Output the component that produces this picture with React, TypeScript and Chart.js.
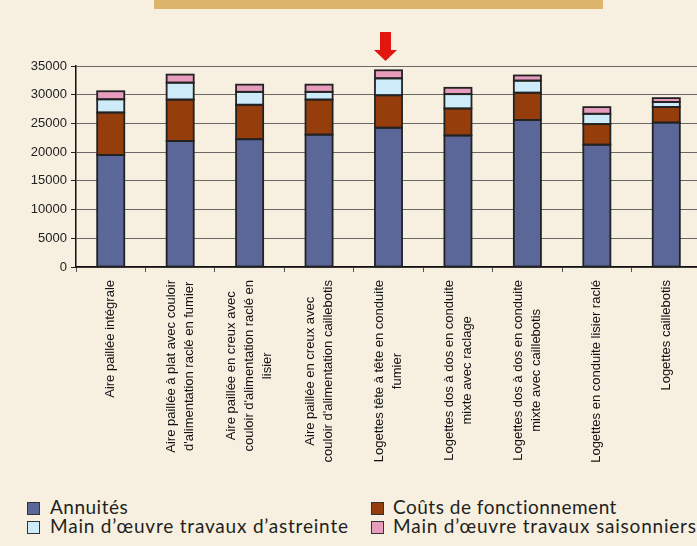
import React, { useEffect, useRef } from "react";
import { Chart, registerables } from "chart.js";

Chart.register(...registerables);

const categories: string[][] = [
  ["Aire paillée intégrale"],
  ["Aire paillée à plat avec couloir", "d'alimentation raclé en fumier"],
  ["Aire paillée en creux avec", "couloir d'alimentation raclé en", "lisier"],
  ["Aire paillée en creux avec", "couloir d'alimentation caillebotis"],
  ["Logettes tête à tête en conduite", "fumier"],
  ["Logettes dos à dos en conduite", "mixte avec raclage"],
  ["Logettes dos à dos en conduite", "mixte avec caillebotis"],
  ["Logettes en conduite lisier raclé"],
  ["Logettes caillebotis"],
];

const annuites = [19500, 21950, 22250, 23050, 24250, 22900, 25600, 21300, 25150];
const couts = [7400, 7200, 6000, 6100, 5650, 4700, 4750, 3580, 2700];
const astreinte = [2300, 2950, 2250, 1350, 2950, 2500, 2100, 1800, 870];
const saisonniers = [1400, 1400, 1250, 1250, 1400, 1100, 900, 1160, 690];

const seriesNames = [
  "Annuités",
  "Coûts de fonctionnement",
  "Main d’œuvre travaux d’astreinte",
  "Main d’œuvre travaux saisonniers",
];
const seriesColors = ["#5B6799", "#963D0C", "#CDEBF8", "#E79CBE"];

const yTicksMax = 35000;
const yTicksStep = 5000;

const CANVAS_W = 701;
const CANVAS_H = 490;
const AXIS_Y = 267;
const AXIS_X = 76;

const xLabelPlugin = {
  id: "xLabelPlugin",
  afterDraw(chart: any) {
    const ctx = chart.ctx;
    const xs = chart.scales.x;
    const lh = 18;
    const top = 280;
    ctx.save();
    ctx.font = "13px 'Liberation Sans', Arial, sans-serif";
    ctx.fillStyle = "#111";
    ctx.textAlign = "center";
    ctx.textBaseline = "middle";
    categories.forEach((lines, i) => {
      const px = xs.getPixelForValue(i);
      let w = 0;
      lines.forEach((l) => (w = Math.max(w, ctx.measureText(l).width)));
      const cy = top + w / 2;
      const n = lines.length;
      lines.forEach((l, j) => {
        const off = (j - (n - 1) / 2) * lh;
        ctx.save();
        ctx.translate(px + off, cy);
        ctx.rotate(-Math.PI / 2);
        ctx.fillText(l, 0, 0);
        ctx.restore();
      });
    });
    ctx.restore();
  },
};

// Excel-like outlines: stroke centred on each segment's edge
const barOutlinePlugin = {
  id: "barOutlinePlugin",
  afterDatasetsDraw(chart: any) {
    const ctx = chart.ctx;
    ctx.save();
    ctx.strokeStyle = "#222";
    ctx.lineWidth = 1.8;
    chart.data.datasets.forEach((_d: any, di: number) => {
      const meta = chart.getDatasetMeta(di);
      meta.data.forEach((el: any) => {
        const { x, y, base, width } = el.getProps(["x", "y", "base", "width"], true);
        const left = x - width / 2;
        const top = Math.min(y, base);
        const h = Math.abs(base - y);
        ctx.strokeRect(left, top, width, h);
      });
    });
    ctx.restore();
  },
};

function App() {
  const ref = useRef<HTMLCanvasElement | null>(null);
  useEffect(() => {
    if (!ref.current) return;
    const series = [annuites, couts, astreinte, saisonniers];
    const chart = new Chart(ref.current, {
      type: "bar",
      data: {
        labels: categories.map((c) => c.join(" ")),
        datasets: series.map((d, i) => ({
          label: seriesNames[i],
          data: d,
          backgroundColor: seriesColors[i],
          borderWidth: 0,
          categoryPercentage: 1,
          barPercentage: 0.39,
        })),
      },
      options: {
        animation: false,
        responsive: false,
        maintainAspectRatio: false,
        devicePixelRatio: 1,
        layout: { padding: { top: 66, left: 0, right: 0, bottom: 0 } },
        plugins: { legend: { display: false }, tooltip: { enabled: false }, title: { display: false } },
        scales: {
          x: {
            stacked: true,
            ticks: { display: false },
            grid: {
              display: true,
              drawOnChartArea: false,
              drawTicks: true,
              tickLength: 5,
              tickColor: "#555",
              offset: true,
            },
            border: { display: true, color: "#111", width: 1.5 },
            afterFit: (s: any) => {
              s.height = CANVAS_H - AXIS_Y;
            },
          },
          y: {
            stacked: true,
            min: 0,
            max: yTicksMax,
            ticks: {
              stepSize: yTicksStep,
              padding: 4,
              color: "#222",
              font: { family: "'Liberation Sans', Arial, sans-serif", size: 13 },
              callback: (v: any) => String(v),
            },
            grid: {
              color: "rgba(70,70,70,0.8)",
              lineWidth: 1,
              tickLength: 5,
              tickColor: "#222",
            },
            border: { display: true, color: "#111", width: 1.5 },
            afterFit: (s: any) => {
              s.width = AXIS_X;
            },
          },
        },
      },
      plugins: [barOutlinePlugin, xLabelPlugin],
    });
    return () => chart.destroy();
  }, []);

  const legendFont = "Lato, 'DejaVu Sans', sans-serif";
  const legendItems = [
    { left: 27, top: 502, textLeft: 50 },
    { left: 371, top: 502, textLeft: 393 },
    { left: 27, top: 521, textLeft: 50 },
    { left: 371, top: 521, textLeft: 393 },
  ];

  return (
    <div
      style={{
        position: "fixed",
        left: 0,
        top: 0,
        width: 697,
        height: 546,
        overflow: "hidden",
        background: "#F7EFE0",
      }}
    >
      <div
        style={{
          position: "absolute",
          left: 154,
          top: 0,
          width: 449,
          height: 9,
          background: "#DCB46A",
        }}
      />
      <svg
        style={{ position: "absolute", left: 0, top: 0 }}
        width={697}
        height={70}
      >
        <polygon
          points="380,32 391,32 391,50 397,50 385.5,61 374,50 380,50"
          fill="#E2150F"
        />
      </svg>
      <canvas
        ref={ref}
        width={CANVAS_W}
        height={CANVAS_H}
        style={{ position: "absolute", left: 0, top: 0, width: CANVAS_W, height: CANVAS_H }}
      />
      {legendItems.map((it, i) => (
        <React.Fragment key={i}>
          <div
            style={{
              position: "absolute",
              left: it.left,
              top: it.top,
              width: 11,
              height: 11,
              border: "1.5px solid #333",
              background: seriesColors[i],
            }}
          />
          <div
            style={{
              position: "absolute",
              left: it.textLeft,
              top: it.top - 6,
              fontFamily: legendFont,
              fontSize: 19,
              letterSpacing: i >= 2 ? "0.8px" : "0.5px",
              lineHeight: "22px",
              color: "#231F20",
              whiteSpace: "nowrap",
            }}
          >
            {seriesNames[i]}
          </div>
        </React.Fragment>
      ))}
    </div>
  );
}

export default App;
